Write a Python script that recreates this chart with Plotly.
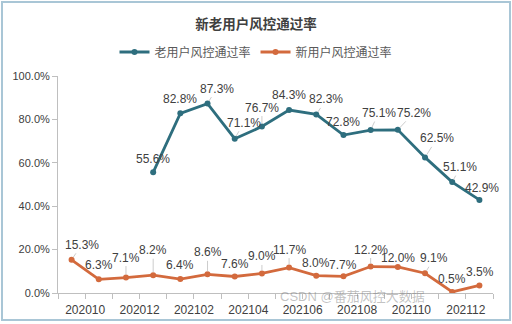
import plotly.graph_objects as go

months = ["202010", "202011", "202012", "202101", "202102", "202103", "202104", "202105",
          "202106", "202107", "202108", "202109", "202110", "202111", "202112", "202201"]
old_start = 3
old_rate = [55.6, 82.8, 87.3, 71.1, 76.7, 84.3, 82.3, 72.8, 75.1, 75.2, 62.5, 51.1, 42.9]
new_rate = [15.3, 6.3, 7.1, 8.2, 6.4, 8.6, 7.6, 9.0, 11.7, 8.0, 7.7, 12.2, 12.0, 9.1, 0.5, 3.5]
tick_labels = ["202010", "202012", "202102", "202104", "202106", "202108", "202110", "202112"]
y_ticks = [0, 20, 40, 60, 80, 100]

# label offsets (px) and leader-line flags (style)
old_off = [(0, -13, 0), (0, -14, 0), (9, -15, 1), (9, -16, 1), (0, -19, 1), (0, -15, 0), (10, -15, 1),
           (0, -13, 0), (8, -17, 1), (16, -17, 1), (12, -19, 1), (8, -15, 1), (3, -12, 0)]
new_off = [(10, -15, 1), (0, -14, 0), (0, -20, 1), (0, -25, 1), (0, -14, 0), (0, -22, 1), (0, -13, 0),
           (0, -17, 1), (0, -18, 1), (0, -13, 0), (0, -11, 0), (0, -17, 1), (0, -9, 0), (9, -15, 1),
           (0, -13, 0), (1, -13, 0)]

BLUE = "#2E6E7E"
ORANGE = "#D36A3D"
FONT = "Liberation Sans, Noto Sans CJK SC, sans-serif"

x_new = list(range(len(months)))
x_old = list(range(old_start, old_start + len(old_rate)))

fig = go.Figure()
fig.add_trace(go.Scatter(x=x_old, y=old_rate, mode="lines+markers", name="老用户风控通过率",
                         line=dict(color=BLUE, width=2.8), marker=dict(color=BLUE, size=6)))
fig.add_trace(go.Scatter(x=x_new, y=new_rate, mode="lines+markers", name="新用户风控通过率",
                         line=dict(color=ORANGE, width=2.8), marker=dict(color=ORANGE, size=6)))

ann = []
for xs, ys, offs in [(x_old, old_rate, old_off), (x_new, new_rate, new_off)]:
    for x, y, (dx, dy, lead) in zip(xs, ys, offs):
        ann.append(dict(x=x, y=y, xref="x", yref="y", text=f"{y:.1f}%",
                        showarrow=True, arrowhead=0, arrowwidth=0.8,
                        arrowcolor="#BFBFBF" if lead else "rgba(0,0,0,0)",
                        ax=dx, ay=dy, standoff=3,
                        font=dict(family=FONT, size=12, color="#404040")))
ann.append(dict(x=(427 - 58) / 435, y=(293 - 306) / 217, xref="paper", yref="paper",
                text="CSDN @番茄风控大数据", showarrow=False,
                font=dict(family=FONT, size=13, color="rgba(120,120,120,0.45)")))

fig.update_layout(
    width=512, height=324,
    margin=dict(l=58, r=19, t=76, b=31),
    paper_bgcolor="white", plot_bgcolor="white",
    title=dict(text="<b>新老用户风控通过率</b>", x=0.5, xref="container", xanchor="center",
               y=1 - 24 / 324, yref="container", yanchor="middle",
               font=dict(family=FONT, size=13.5, color="#404040")),
    legend=dict(orientation="h", x=0.5, xref="container", xanchor="center",
                y=1 - 52 / 324, yref="container", yanchor="middle",
                font=dict(family=FONT, size=12, color="#595959"),
                itemwidth=30, bgcolor="rgba(0,0,0,0)"),
    showlegend=True,
    annotations=ann,
    xaxis=dict(range=[-0.5, len(months) - 0.5], showgrid=False, zeroline=False, automargin=False,
               tickmode="array", tickvals=[months.index(m) + 0.5 for m in tick_labels],
               ticktext=tick_labels, ticks="", showline=True, linecolor="#BFBFBF", linewidth=1,
               ticklabelstandoff=6,
               tickfont=dict(family=FONT, size=12, color="#404040"),
               minor=dict(ticks="outside", tick0=0.5, dtick=1, ticklen=5, tickcolor="#BFBFBF")),
    yaxis=dict(range=[0, 100], showgrid=False, zeroline=False, tickmode="array", automargin=False,
               tickvals=y_ticks, ticktext=[f"{v:.1f}%" for v in y_ticks],
               ticks="outside", ticklen=5, tickcolor="#BFBFBF",
               showline=True, linecolor="#BFBFBF", linewidth=1,
               tickfont=dict(family=FONT, size=11, color="#404040")),
    shapes=[dict(type="rect", xref="paper", yref="paper",
                 x0=(2 - 58) / 435, x1=(510 - 58) / 435,
                 y0=-(320 - 293) / 217, y1=1 + (76 - 2) / 217,
                 line=dict(color="#A9C6D6", width=2), layer="below")],
)

fig.write_html("out.html")
